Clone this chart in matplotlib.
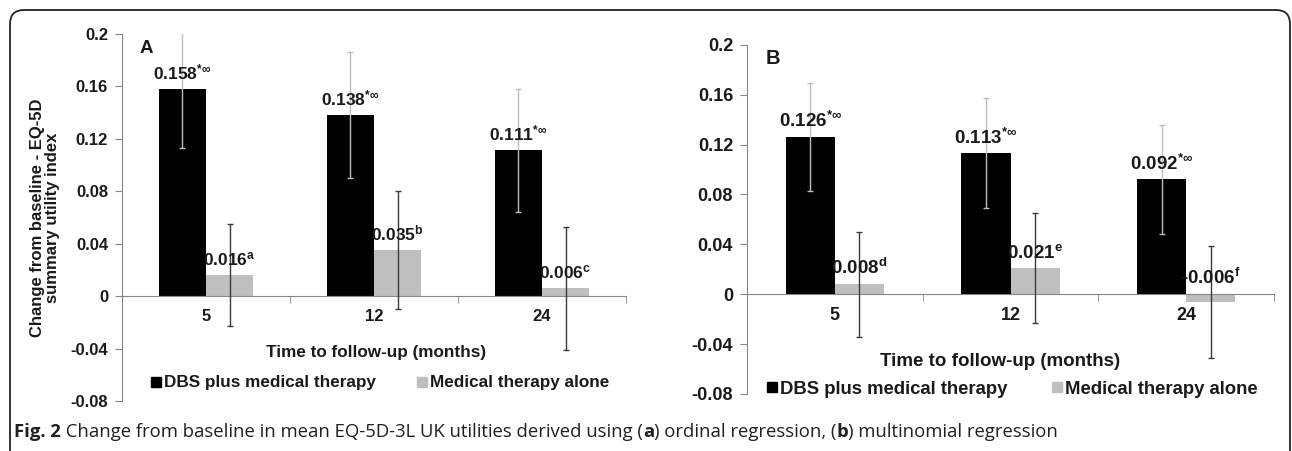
import numpy as np
import matplotlib
matplotlib.use('Agg')
import matplotlib.pyplot as plt
from matplotlib.patches import FancyBboxPatch
from matplotlib.lines import Line2D
from matplotlib.offsetbox import TextArea, HPacker, AnchoredOffsetbox

plt.rcParams['font.family'] = ['Liberation Sans', 'DejaVu Sans']
plt.rcParams['mathtext.fontset'] = 'custom'
plt.rcParams['mathtext.rm'] = 'Liberation Sans:bold'
plt.rcParams['mathtext.bf'] = 'Liberation Sans:bold'
plt.rcParams['mathtext.it'] = 'Liberation Sans:bold'

# data
months = ['5', '12', '24']
series = ['DBS plus medical therapy', 'Medical therapy alone']

# panel A: ordinal regression
dbs_a = [0.158, 0.138, 0.111]
dbs_a_err = [0.045, 0.048, 0.047]
med_a = [0.016, 0.035, 0.006]
med_a_err = [0.039, 0.045, 0.047]
med_a_sup = ['a', 'b', 'c']

# panel B: multinomial regression
dbs_b = [0.126, 0.113, 0.092]
dbs_b_err = [0.043, 0.044, 0.044]
med_b = [0.008, 0.021, -0.006]
med_b_err = [0.042, 0.044, 0.045]
med_b_sup = ['d', 'e', 'f']

dbs_sup = r'*\infty'

yticks = [-0.08, -0.04, 0, 0.04, 0.08, 0.12, 0.16, 0.2]
ytick_labels = ['-0.08', '-0.04', '0', '0.04', '0.08', '0.12', '0.16', '0.2']

W, H = 1292, 451
fig = plt.figure(figsize=(W / 100, H / 100), dpi=100)

# background layer in pixel coords for frame, caption and loose text
bg = fig.add_axes([0, 0, 1, 1], zorder=-1)
bg.set_xlim(0, W)
bg.set_ylim(H, 0)
bg.axis('off')
bg.add_patch(FancyBboxPatch((10, 10), 1280, 470, boxstyle='round,pad=0,rounding_size=14',
                            fill=False, edgecolor='#222222', linewidth=1.3))

axis_grey = '#868686'
txt = '#1a1a1a'


def pix_axes(left, right, top, bottom):
    return fig.add_axes([left / W, 1 - bottom / H, (right - left) / W, (bottom - top) / H])


def draw_panel(ax, dbs, dbs_err, med, med_err, med_sup, fs, letter):
    x = np.arange(len(months))
    w = 0.28
    ax.bar(x - w / 2, dbs, w, color='black', zorder=2)
    ax.bar(x + w / 2, med, w, color='#bfbfbf', zorder=2)
    ax.errorbar(x - w / 2, dbs, yerr=dbs_err, fmt='none', ecolor='#bdbdbd',
                elinewidth=1, capsize=2.5, capthick=1, zorder=3)
    ax.errorbar(x + w / 2, med, yerr=med_err, fmt='none', ecolor='#3a3a3a',
                elinewidth=1, capsize=2.5, capthick=1, zorder=3)

    for xi, v in zip(x, dbs):
        ax.annotate(f'{v:.3f}$^{{{dbs_sup}}}$', (xi - w / 2, v), xytext=(0, 7),
                    textcoords='offset points', ha='center', va='baseline',
                    fontsize=fs + 0.5, fontweight='bold', color=txt, zorder=4)
    for xi, v, s in zip(x, med, med_sup):
        ax.annotate(f'{v:.3f}$^{{{s}}}$', (xi + w / 2, max(v, 0)), xytext=(0, 7),
                    textcoords='offset points', ha='center', va='baseline',
                    fontsize=fs + 0.5, fontweight='bold', color=txt, zorder=4)

    ax.set_xlim(-0.5, len(months) - 0.5)
    ax.set_ylim(-0.08, 0.2)
    ax.set_yticks(yticks)
    ax.set_yticklabels(ytick_labels)
    ax.set_xticks(x)
    ax.set_xticklabels(months)
    ax.set_xticks(list(x[:-1] + 0.5) + [len(months) - 0.5], minor=True)

    for s in ['top', 'right']:
        ax.spines[s].set_visible(False)
    ax.spines['left'].set_color(axis_grey)
    ax.spines['bottom'].set_color(axis_grey)
    ax.spines['bottom'].set_position(('data', 0))
    ax.spines['bottom'].set_zorder(2.5)

    ax.tick_params(axis='y', direction='out', length=5, color=axis_grey, pad=5,
                   labelsize=fs, labelcolor=txt)
    ax.tick_params(axis='x', which='major', length=0, pad=9, labelsize=fs, labelcolor=txt)
    ax.tick_params(axis='x', which='minor', direction='out', length=5, color=axis_grey)
    for lab in ax.get_yticklabels() + ax.get_xticklabels():
        lab.set_fontweight('bold')
    ax.patch.set_alpha(0)

    ax.text(0.035, 0.96, letter, transform=ax.transAxes, ha='left', va='center',
            fontsize=fs + 1.5, fontweight='bold', color=txt)


ax_a = pix_axes(122, 626, 33.7, 401)
draw_panel(ax_a, dbs_a, dbs_a_err, med_a, med_a_err, med_a_sup, 12, 'A')
ax_b = pix_axes(747, 1274, 44.7, 394)
draw_panel(ax_b, dbs_b, dbs_b_err, med_b, med_b_err, med_b_sup, 13, 'B')

bg.text(45, 218, 'Change from baseline - EQ-5D\nsummary utility index', rotation=90,
        ha='center', va='center', fontsize=12, fontweight='bold', color=txt,
        linespacing=1.0)

bg.text(376, 352, 'Time to follow-up (months)', ha='center', va='center',
        fontsize=12.3, fontweight='bold', color=txt)
bg.text(1000, 362, 'Time to follow-up (months)', ha='center', va='center',
        fontsize=13.5, fontweight='bold', color=txt)

handles = [Line2D([], [], marker='s', linestyle='none', color='black', markersize=7),
           Line2D([], [], marker='s', linestyle='none', color='#bfbfbf', markersize=7)]
for cx, cy, fs in [(380, 383, 12.3), (1012, 389, 13.3)]:
    leg = fig.legend(handles, series, loc='center', bbox_to_anchor=(cx / W, 1 - cy / H),
                     ncol=2, frameon=False, handlelength=0.6, handletextpad=0.15,
                     columnspacing=2.4, borderpad=0,
                     prop={'size': fs, 'weight': 'bold'})
    for t in leg.get_texts():
        t.set_color(txt)

# caption with mixed bold/regular runs
cap_props = dict(family='Open Sans', size=13.3, color='#231f20')
runs = [('Fig. 2', 'bold'),
        (' Change from baseline in mean EQ-5D-3L UK utilities derived using (', 'normal'),
        ('a', 'bold'), (') ordinal regression, (', 'normal'), ('b', 'bold'),
        (') multinomial regression', 'normal')]
boxes = [TextArea(t, textprops=dict(cap_props, weight=wt)) for t, wt in runs]
cap = AnchoredOffsetbox(loc='center left', child=HPacker(children=boxes, pad=0, sep=0, align='baseline'),
                        pad=0, borderpad=0, frameon=False,
                        bbox_to_anchor=(14 / W, 1 - 432 / H), bbox_transform=fig.transFigure)
bg.add_artist(cap)

fig.savefig('out.png', dpi=100)
